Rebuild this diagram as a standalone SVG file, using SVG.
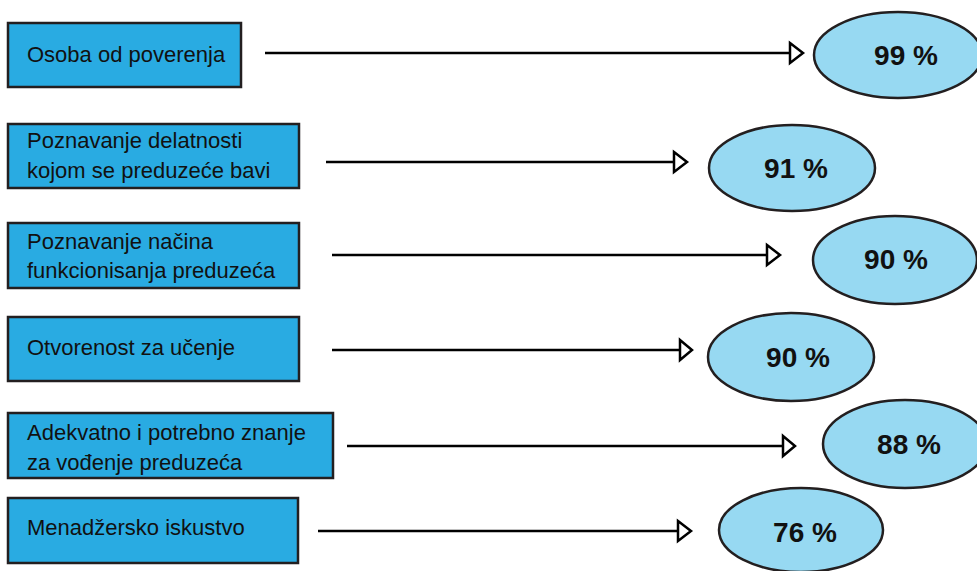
<svg xmlns="http://www.w3.org/2000/svg" width="977" height="571" viewBox="0 0 977 571">
<style>
.box{fill:#29abe2;stroke:#231f20;stroke-width:2.5}
.ell{fill:#97d9f2;stroke:#231f20;stroke-width:2.5}
.lbl{font-family:"Liberation Sans",Arial,sans-serif;font-size:22px;fill:#111}
.pct{font-family:"Liberation Sans",Arial,sans-serif;font-size:28px;font-weight:bold;fill:#111;text-anchor:middle}
.ln{stroke:#000;stroke-width:2.5;fill:none}
.hd{fill:#fff;stroke:#000;stroke-width:2.5;stroke-linejoin:miter}
</style>
<rect width="977" height="571" fill="#fff"/>
<g id="n1"><rect class="box" x="8" y="23" width="233" height="64"/><text class="lbl" x="27" y="62">Osoba od poverenja</text></g>
<g id="n2"><rect class="box" x="8" y="124" width="291" height="64"/><text class="lbl" x="27" y="148">Poznavanje delatnosti</text><text class="lbl" x="27" y="178">kojom se preduzeće bavi</text></g>
<g id="n3"><rect class="box" x="8" y="223" width="291" height="65"/><text class="lbl" x="27" y="249">Poznavanje načina</text><text class="lbl" x="27" y="278">funkcionisanja preduzeća</text></g>
<g id="n4"><rect class="box" x="8" y="317" width="291" height="64"/><text class="lbl" x="27" y="355">Otvorenost za učenje</text></g>
<g id="n5"><rect class="box" x="8" y="413" width="325" height="65"/><text class="lbl" x="27" y="440">Adekvatno i potrebno znanje</text><text class="lbl" x="27" y="470">za vođenje preduzeća</text></g>
<g id="n6"><rect class="box" x="8" y="498" width="290" height="65"/><text class="lbl" x="27" y="535">Menadžersko iskustvo</text></g>
<g id="e1"><ellipse class="ell" cx="898" cy="55" rx="84" ry="43"/><text class="pct" x="906" y="65">99 %</text></g>
<g id="e2"><ellipse class="ell" cx="792" cy="168" rx="83" ry="43"/><text class="pct" x="796" y="178">91 %</text></g>
<g id="e3"><ellipse class="ell" cx="895" cy="260" rx="82" ry="44"/><text class="pct" x="896" y="269">90 %</text></g>
<g id="e4"><ellipse class="ell" cx="791" cy="357" rx="83" ry="44"/><text class="pct" x="798" y="367">90 %</text></g>
<g id="e5"><ellipse class="ell" cx="905" cy="444" rx="82" ry="44"/><text class="pct" x="909" y="454">88 %</text></g>
<g id="e6"><ellipse class="ell" cx="801" cy="530" rx="82" ry="42"/><text class="pct" x="805" y="542">76 %</text></g>
<g id="connectors">
<line class="ln" x1="265" y1="53" x2="790" y2="53"/><polygon class="hd" points="790,43 803,53 790,63"/>
<line class="ln" x1="326" y1="162" x2="674" y2="162"/><polygon class="hd" points="674,152 687,162 674,172"/>
<line class="ln" x1="332" y1="255" x2="767" y2="255"/><polygon class="hd" points="767,245 780,255 767,265"/>
<line class="ln" x1="332" y1="350" x2="680" y2="350"/><polygon class="hd" points="680,340 692,350 680,360"/>
<line class="ln" x1="347" y1="446" x2="783" y2="446"/><polygon class="hd" points="783,436 795,446 783,456"/>
<line class="ln" x1="318" y1="531" x2="678" y2="531"/><polygon class="hd" points="678,521 691,531 678,541"/>
</g>
</svg>
